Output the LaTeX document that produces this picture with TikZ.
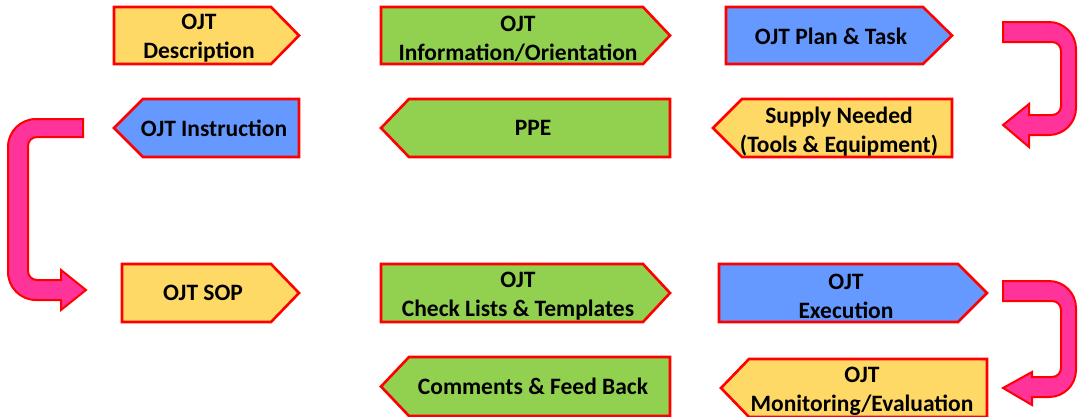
\documentclass[tikz,border=0pt]{standalone}
\usepackage{fontspec}
\setmainfont{Carlito}
\definecolor{boxyellow}{HTML}{FFD966}
\definecolor{boxgreen}{HTML}{92D050}
\definecolor{boxblue}{HTML}{6699FF}
\definecolor{arrowpink}{HTML}{FF3399}
\definecolor{edgered}{HTML}{FF0000}
\tikzset{
  boxline/.style={draw=edgered,line width=2.6pt,line join=miter},
  bendarrow/.style={draw=edgered,fill=arrowpink,line width=2pt,line join=miter},
  lbl/.style={align=center,inner sep=0pt,font=\fontsize{23.5}{29}\selectfont\bfseries,text=black}
}
% right-pointing: left x, shoulder x, tip x, top y, bottom y, colour
\newcommand\sigR[6]{\draw[boxline,fill=#6] (#1,#4) -- (#2,#4) -- (#3,{(#4+#5)/2}) -- (#2,#5) -- (#1,#5) -- cycle;}
% left-pointing: tip x, shoulder x, right x, top y, bottom y, colour
\newcommand\sigL[6]{\draw[boxline,fill=#6] (#1,{(#4+#5)/2}) -- (#2,#4) -- (#3,#4) -- (#3,#5) -- (#2,#5) -- cycle;}
\begin{document}
\begin{tikzpicture}[x=1pt,y=-1pt]
\useasboundingbox (0,0) rectangle (1078,416);
% row 1
\sigR{114}{271}{299}{7}{64}{boxyellow}
\node[lbl] (desc) at (199,38.5) {OJT\\Description};
\sigR{381}{643}{670}{7}{64}{boxgreen}
\node[lbl] (info) at (518,38.5) {OJT\\Information/Orientation};
\sigR{726}{923}{952}{7}{64}{boxblue}
\node[lbl] (plan) at (831,36) {OJT Plan \& Task};
% row 2
\sigL{114}{143}{299}{99}{157}{boxblue}
\node[lbl] (instr) at (214,128) {OJT Instruction};
\sigL{381}{409}{670}{99}{157}{boxgreen}
\node[lbl] (ppe) at (533,128) {PPE};
\sigL{713}{742}{952}{99}{157}{boxyellow}
\node[lbl] (supply) at (839,131.5) {Supply Needed\\(Tools \& Equipment)};
% row 3
\sigR{122}{271}{299}{264}{322}{boxyellow}
\node[lbl] (sop) at (203,293) {OJT SOP};
\sigR{381}{643}{670}{264}{322}{boxgreen}
\node[lbl] (check) at (518,296.5) {OJT\\Check Lists \& Templates};
\sigR{719}{958}{987}{264}{322}{boxblue}
\node[lbl] (exec) at (846,296.5) {OJT\\Execution};
% row 4
\sigL{381}{409}{670}{357}{416}{boxgreen}
\node[lbl] (comm) at (533,386) {Comments \& Feed Back};
\sigL{721}{749}{987}{359}{417}{boxyellow}
\node[lbl] (mon) at (862,391.5) {OJT\\Monitoring/Evaluation};
% bent arrows
\draw[bendarrow] (1003,22) -- (1049,22) .. controls (1063.9,22) and (1076,34.1) .. (1076,49) -- (1076,108) .. controls (1076,122.9) and (1063.9,135) .. (1049,135) -- (1029,135) -- (1029,147) -- (1003,125) -- (1029,104) -- (1029,115) -- (1052,115) .. controls (1057,115) and (1061,111) .. (1061,106) -- (1061,51) .. controls (1061,46) and (1057,42) .. (1052,42) -- (1003,42) -- cycle;
\draw[bendarrow] (1003,281) -- (1049,281) .. controls (1063.9,281) and (1076,293.1) .. (1076,308) -- (1076,370) .. controls (1076,384.9) and (1063.9,397) .. (1049,397) -- (1032,397) -- (1032,405) -- (1003,388) -- (1032,372) -- (1032,377) -- (1052,377) .. controls (1057,377) and (1061,373) .. (1061,368) -- (1061,310) .. controls (1061,305) and (1057,301) .. (1052,301) -- (1003,301) -- cycle;
\draw[bendarrow] (83,119) -- (36,119) .. controls (20.5,119) and (8,131.5) .. (8,147) -- (8,272) .. controls (8,287.5) and (20.5,300) .. (36,300) -- (61,300) -- (61,310) -- (86,290) -- (61,270) -- (61,280) -- (37,280) .. controls (32,280) and (28,276) .. (28,271) -- (28,146) .. controls (28,141) and (32,137) .. (37,137) -- (83,137) -- cycle;
\end{tikzpicture}
\end{document}
